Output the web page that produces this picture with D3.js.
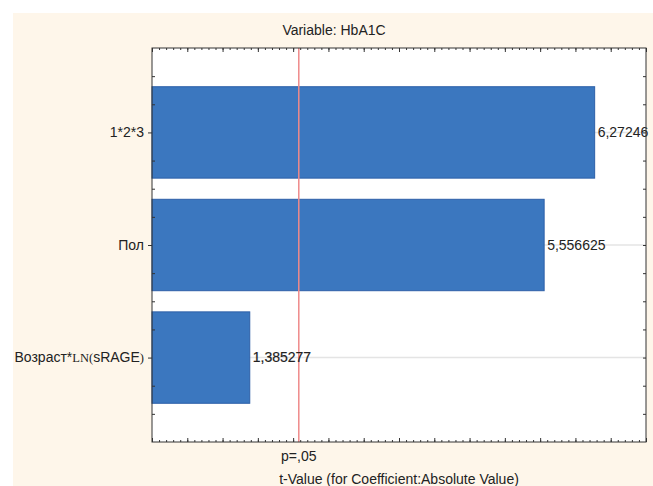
<!DOCTYPE html>
<html>
<head>
<meta charset="utf-8">
<script src="https://cdn.jsdelivr.net/npm/d3@7"></script>
<style>
  html, body { margin: 0; padding: 0; background: #ffffff; }
  svg { display: block; }
  text { font-family: "Liberation Sans", Arial, sans-serif; fill: #222; }
</style>
</head>
<body>
<svg id="chart" width="653" height="486"></svg>
<script>
// Effects (t-values, absolute) for the HbA1C model
const categories = ["1*2*3", "Пол", "Возраст*LN(sRAGE)"];
const tValues = [6.27246, 5.556625, 1.385277];
const criticalT = 2.08;
const criticalLabel = "p=,05";
const titleText = "Variable: HbA1C";
const xAxisTitle = "t-Value (for Coefficient:Absolute Value)";
const xMajorTicks = d3.range(0, 7.01, 0.5);
const xMinorTicks = d3.range(0, 7.001, 0.1);
const yTicks = d3.range(0.5, 3.51, 0.25);

const W = 653, H = 486;
const plot = { left: 152, right: 646, top: 48, bottom: 442 };
const FS = 14;

const svg = d3.select("#chart");

// outer cream panel
svg.append("rect").attr("x", 13).attr("y", 13).attr("width", W - 13).attr("height", H - 13)
  .attr("fill", "#fef6ea");

// plot area
svg.append("rect").attr("x", plot.left).attr("y", plot.top)
  .attr("width", plot.right - plot.left).attr("height", plot.bottom - plot.top)
  .attr("fill", "#ffffff");

const x = d3.scaleLinear().domain([0, 7]).range([plot.left, plot.right]);
const y = d3.scaleLinear().domain([0.25, 3.75]).range([plot.top, plot.bottom]);
const barHalf = 0.406;

// horizontal grid lines at category positions
svg.append("g").selectAll("line").data(categories).join("line")
  .attr("x1", plot.left).attr("x2", plot.right)
  .attr("y1", (d, i) => y(i + 1)).attr("y2", (d, i) => y(i + 1))
  .attr("stroke", "#e4e4e4").attr("stroke-width", 1.5);

// bars
svg.append("g").selectAll("rect").data(tValues).join("rect")
  .attr("x", x(0))
  .attr("y", (d, i) => y(i + 1 - barHalf))
  .attr("width", d => x(d) - x(0))
  .attr("height", y(1 + barHalf) - y(1 - barHalf))
  .attr("fill", "#3b77bf")
  .attr("stroke", "#2c5fa8").attr("stroke-width", 1);

// critical value line
svg.append("line")
  .attr("x1", x(criticalT)).attr("x2", x(criticalT))
  .attr("y1", plot.top).attr("y2", plot.bottom)
  .attr("stroke", "#ef8a8a").attr("stroke-width", 1.5);

// value labels
svg.append("g").selectAll("text").data(tValues).join("text")
  .attr("x", d => x(d) + 3)
  .attr("y", (d, i) => y(i + 1))
  .attr("dy", "0.35em")
  .attr("font-size", FS)
  .style("stroke", (d, i) => i === 2 ? "#222" : "none")
  .style("stroke-width", 0.2)
  .text(d => String(d).replace(".", ","));

// axes with inward ticks
function styleAxis(g) {
  g.select(".domain").remove();
  g.selectAll(".tick line").attr("stroke", "#333");
  g.selectAll(".tick text").remove();
}
svg.append("g").attr("transform", `translate(0,${plot.bottom})`)
  .call(d3.axisBottom(x).tickValues(xMinorTicks).tickSize(-2).tickFormat(""))
  .call(styleAxis);
svg.append("g").attr("transform", `translate(0,${plot.bottom})`)
  .call(d3.axisBottom(x).tickValues(xMajorTicks).tickSize(-4).tickFormat(""))
  .call(styleAxis);
svg.append("g").attr("transform", `translate(0,${plot.top})`)
  .call(d3.axisTop(x).tickValues(xMinorTicks).tickSize(-2).tickFormat(""))
  .call(styleAxis);
svg.append("g").attr("transform", `translate(0,${plot.top})`)
  .call(d3.axisTop(x).tickValues(xMajorTicks).tickSize(-4).tickFormat(""))
  .call(styleAxis);
svg.append("g").attr("transform", `translate(${plot.left},0)`)
  .call(d3.axisLeft(y).tickValues(yTicks.filter(v => v % 1 !== 0)).tickSize(-3).tickFormat(""))
  .call(styleAxis);
svg.append("g").attr("transform", `translate(${plot.left},0)`)
  .call(d3.axisLeft(y).tickValues([1, 2, 3]).tickSize(4).tickFormat(""))
  .call(styleAxis);
svg.append("g").attr("transform", `translate(${plot.right},0)`)
  .call(d3.axisRight(y).tickValues(yTicks).tickSize(-3).tickFormat(""))
  .call(styleAxis);

// plot frame
svg.append("rect").attr("x", plot.left).attr("y", plot.top)
  .attr("width", plot.right - plot.left).attr("height", plot.bottom - plot.top)
  .attr("fill", "none").attr("stroke", "#333").attr("stroke-width", 1);

// category labels (the log term uses a serif face as in the source software)
const labelParts = [
  [{ t: "1*2*3" }],
  [{ t: "Пол" }],
  [{ t: "Возраст*" }, { t: "LN(", serif: true }, { t: "sRAGE" }, { t: ")", serif: true }]
];
const catLabels = svg.append("g").selectAll("text").data(labelParts).join("text")
  .attr("x", plot.left - 8)
  .attr("y", (d, i) => y(i + 1))
  .attr("dy", "0.35em")
  .attr("text-anchor", "end")
  .attr("font-size", FS);
catLabels.selectAll("tspan").data(d => d).join("tspan")
  .style("font-family", p => p.serif ? "'Liberation Serif', 'Times New Roman', serif" : null)
  .attr("font-size", p => p.serif ? 12.5 : FS)
  .text(p => p.t);

// titles
svg.append("text").attr("x", 334).attr("y", 35).attr("text-anchor", "middle")
  .attr("font-size", FS).text(titleText);
svg.append("text").attr("x", x(criticalT)).attr("y", 461).attr("text-anchor", "middle")
  .attr("font-size", FS).text(criticalLabel);
svg.append("text").attr("x", (plot.left + plot.right) / 2).attr("y", 484).attr("text-anchor", "middle")
  .attr("font-size", FS).text(xAxisTitle);
</script>
</body>
</html>
